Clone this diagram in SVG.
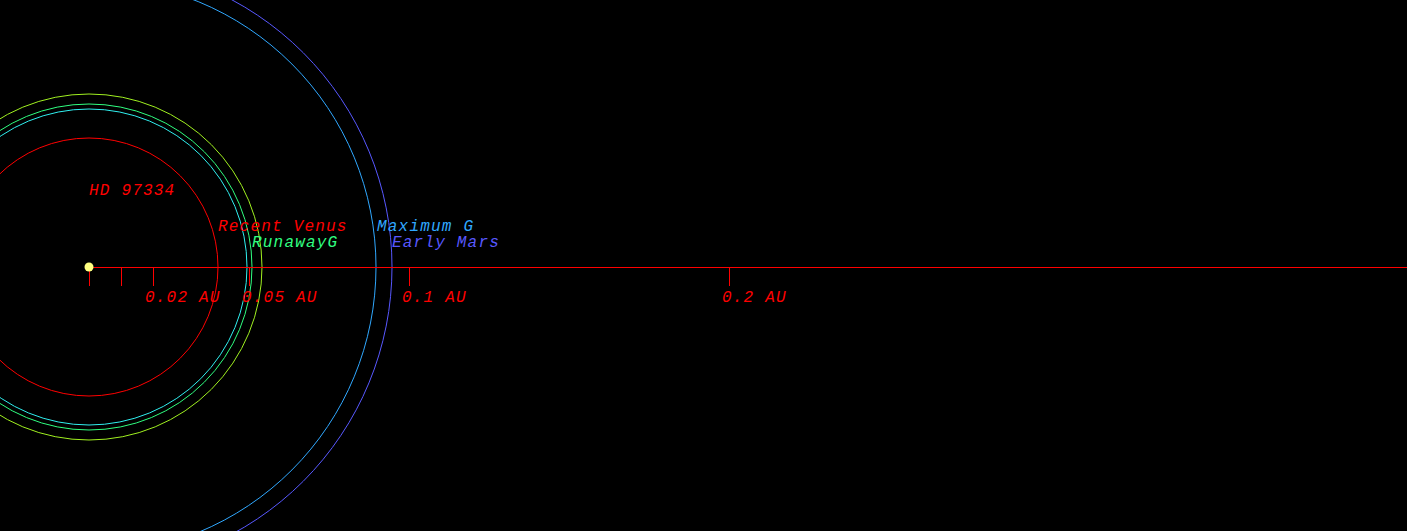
<svg xmlns="http://www.w3.org/2000/svg" width="1407" height="531" viewBox="0 0 1407 531">
<style>
text{font-family:"Liberation Mono","Courier New",monospace;font-style:italic;font-size:16px;letter-spacing:1.2px}
.orb{fill:none;stroke-width:1}
.tick{stroke:#ff0000;stroke-width:1}
.lbl{fill:#ff0000}
</style>
<rect x="0" y="0" width="1407" height="531" fill="#000"/>
<g id="orbits">
<circle class="orb" cx="89" cy="267" r="129" stroke="#ff0000"/>
<circle class="orb" cx="89" cy="267" r="158" stroke="#30f0f0"/>
<circle class="orb" cx="89" cy="267" r="163" stroke="#30ff80"/>
<circle class="orb" cx="89" cy="267" r="173" stroke="#a0f020"/>
<circle class="orb" cx="89" cy="267" r="287" stroke="#30a8ff"/>
<circle class="orb" cx="89" cy="267" r="303" stroke="#5858ff"/>
</g>
<g id="axis">
<line class="tick" x1="89" y1="267.5" x2="1407" y2="267.5"/>
<line class="tick" x1="89.5" y1="267" x2="89.5" y2="286"/>
<line class="tick" x1="121.5" y1="267" x2="121.5" y2="286"/>
<line class="tick" x1="153.5" y1="267" x2="153.5" y2="286"/>
<line class="tick" x1="249.5" y1="267" x2="249.5" y2="286"/>
<line class="tick" x1="409.5" y1="267" x2="409.5" y2="286"/>
<line class="tick" x1="729.5" y1="267" x2="729.5" y2="286"/>
<text class="lbl" x="145" y="302">0.02 AU</text>
<text class="lbl" x="242" y="302">0.05 AU</text>
<text class="lbl" x="402" y="302">0.1 AU</text>
<text class="lbl" x="722" y="302">0.2 AU</text>
</g>
<g id="star">
<circle cx="89" cy="267" r="4.5" fill="#ffff80"/>
<text class="lbl" x="89" y="195">HD 97334</text>
</g>
<g id="labels">
<text x="218" y="231" fill="#ff0000">Recent Venus</text>
<text x="377" y="231" fill="#30a8ff">Maximum G</text>
<text x="252" y="247" fill="#30ff80">RunawayG</text>
<text x="392" y="247" fill="#5858ff">Early Mars</text>
</g>
</svg>
